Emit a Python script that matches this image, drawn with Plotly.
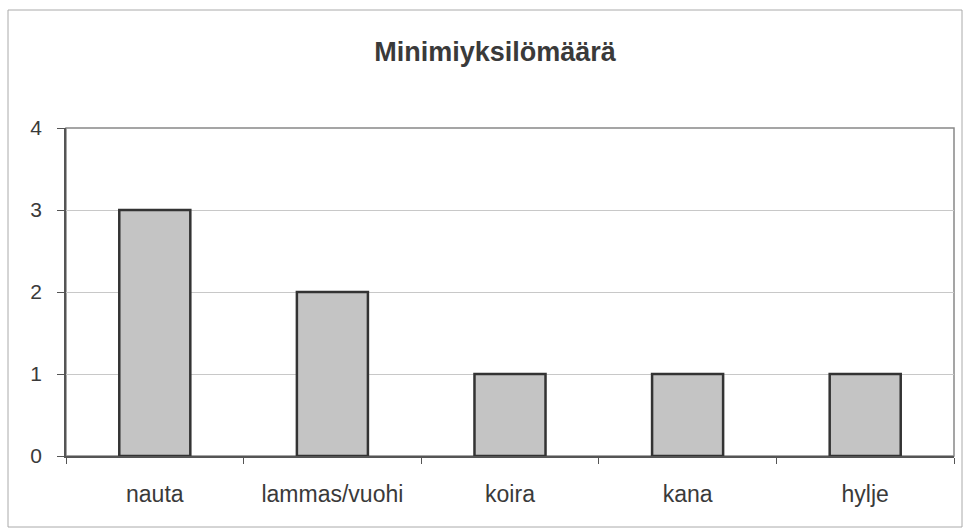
import plotly.graph_objects as go

categories = ["nauta", "lammas/vuohi", "koira", "kana", "hylje"]
values = [3, 2, 1, 1, 1]
y_ticks = [0, 1, 2, 3, 4]
title_text = "Minimiyksilömäärä"

fig = go.Figure()
fig.add_trace(go.Bar(
    x=categories, y=values,
    marker=dict(color="#c4c4c4", line=dict(color="#333333", width=2.5)),
    width=0.4,
))

fig.update_layout(
    width=965, height=529,
    margin=dict(l=66, r=11, t=128, b=73),
    paper_bgcolor="white", plot_bgcolor="white",
    font=dict(family="Liberation Sans, Arial, sans-serif", color="#3a3a3a", size=23),
    title=dict(text="<b>" + title_text + "</b>", x=495 / 965, xref="container", xanchor="center",
               y=1 - 52 / 529, yref="container", yanchor="middle",
               font=dict(size=27, color="#3a3a3a")),
    showlegend=False,
)
fig.update_xaxes(
    showline=True, linecolor="#555555", linewidth=2,
    ticks="outside", tickson="boundaries", ticklen=6, tickcolor="#555555",
    ticklabelstandoff=16,
    showgrid=False, mirror=False,
)
fig.update_yaxes(
    range=[0, 4], tickvals=y_ticks, ticktext=[str(v) for v in y_ticks],
    tickfont=dict(size=21),
    showline=True, linecolor="#555555", linewidth=1.5,
    ticks="outside", ticklen=7, tickcolor="#555555",
    showgrid=True, gridcolor="#c8c8c8", gridwidth=1,
    zeroline=False, ticklabelstandoff=11,
)
# plot-area border
fig.add_shape(type="rect", xref="paper", yref="paper", x0=0, x1=1, y0=0, y1=1,
              line=dict(color="#888888", width=1.5), fillcolor="rgba(0,0,0,0)", layer="below")
# chart-area outer frame
fig.add_shape(type="rect", xref="paper", yref="paper",
              x0=(8 - 66) / 888, x1=1 + (962 - 954) / 888,
              y0=-(527 - 456) / 328, y1=1 + (128 - 10) / 328,
              line=dict(color="#aaaaaa", width=1), fillcolor="rgba(0,0,0,0)", layer="below")

fig.write_html("out.html", config={"displayModeBar": False},
               post_script="document.body.style.margin='0';")
